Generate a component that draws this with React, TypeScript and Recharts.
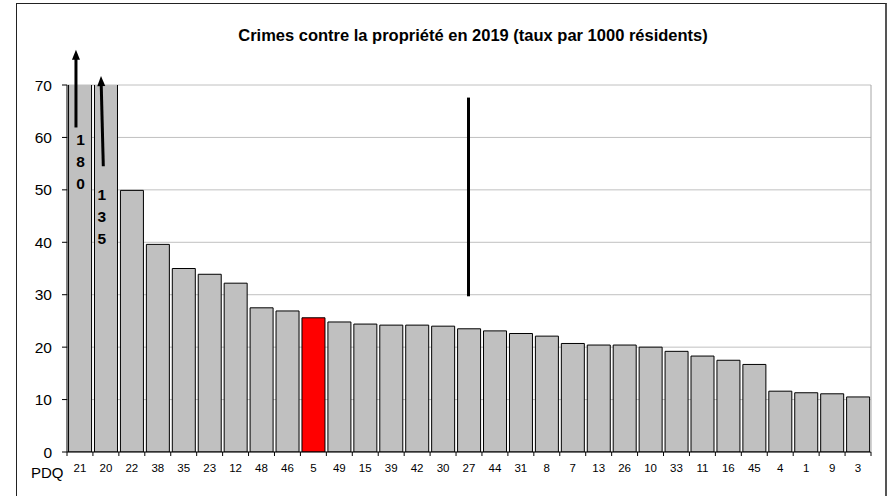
import React from 'react';
import { BarChart, Bar, XAxis, YAxis, CartesianGrid, Cell, ReferenceLine, ReferenceDot } from 'recharts';

const pdqCodes = ['21', '20', '22', '38', '35', '23', '12', '48', '46', '5', '49', '15', '39', '42', '30', '27', '44', '31', '8', '7', '13', '26', '10', '33', '11', '16', '45', '4', '1', '9', '3'];
const crimeRates = [180, 135, 49.9, 39.6, 35.0, 33.9, 32.2, 27.5, 26.9, 25.6, 24.8, 24.4, 24.2, 24.2, 24.0, 23.5, 23.1, 22.6, 22.1, 20.7, 20.4, 20.4, 20.0, 19.2, 18.3, 17.5, 16.7, 11.6, 11.3, 11.1, 10.5];
const highlightedPdq = '5';
const yTicks = [0, 10, 20, 30, 40, 50, 60, 70];
const yMax = 70;
const chartTitle = 'Crimes contre la propriété en 2019 (taux par 1000 résidents)';
const axisName = 'PDQ';
// bars whose value exceeds the axis: arrow span and label anchor in data units
const overflowPdq = ['21', '20'];
const overflowValues = [180, 135];
const arrowFrom = [61.9, 54.5];
const arrowTo = [76.7, 71.7];
const labelAnchor = [59.7, 49.2];
// vertical marker line
const markerPdq = '27';
const markerFrom = 29.7;
const markerTo = 67.6;

const data = pdqCodes.map((p, i) => ({ pdq: p, rate: crimeRates[i] }));

const FONT = "'Liberation Sans', Arial, Helvetica, sans-serif";
const X_TICK_SIZE = 4;
const X_TICK_MARGIN = 8;

// horizontal pixel nudges for annotations (style)
const arrowNudge = [
  [-4, -4],
  [-2.6, -4.9],
];
const labelNudge = [0.7, -4.2];

const XTick = (props: any) => {
  const { x, y, payload, index, visibleTicksCount, width } = props;
  const w = typeof width === 'number' ? width : 804;
  const half = w / visibleTicksCount / 2;
  const axisY = y - X_TICK_SIZE - X_TICK_MARGIN;
  return (
    <g>
      <line x1={x - half} x2={x - half} y1={axisY} y2={axisY + 4} stroke="#000" strokeWidth={1} />
      {index === visibleTicksCount - 1 && (
        <line x1={x + half} x2={x + half} y1={axisY} y2={axisY + 4} stroke="#000" strokeWidth={1} />
      )}
      <text x={x} y={y} dy="0.71em" textAnchor="middle" fontSize={11.5} fill="#000" fontFamily={FONT}>
        {payload.value}
      </text>
    </g>
  );
};

const makeArrow = (i: number) => (props: any) => {
  const { x1, y1, x2, y2 } = props;
  const bx = x1 + arrowNudge[i][0];
  const by = y1;
  const tx = x2 + arrowNudge[i][1];
  const ty = y2;
  const dx = tx - bx;
  const dy = ty - by;
  const len = Math.sqrt(dx * dx + dy * dy) || 1;
  const ux = dx / len;
  const uy = dy / len;
  const headLen = 10;
  const headHalf = 4;
  const hx = tx - ux * headLen;
  const hy = ty - uy * headLen;
  const px = -uy;
  const py = ux;
  return (
    <g>
      <line x1={bx} y1={by} x2={hx + ux * 1} y2={hy + uy * 1} stroke="#000" strokeWidth={3} />
      <polygon
        points={`${tx},${ty} ${hx + px * headHalf},${hy + py * headHalf} ${hx - px * headHalf},${hy - py * headHalf}`}
        fill="#000"
      />
    </g>
  );
};

const makeDigits = (i: number) => (props: any) => {
  const { cx, cy } = props;
  const digits = String(overflowValues[i]).split('');
  const x = cx + labelNudge[i];
  return (
    <text x={x} y={cy} textAnchor="middle" fontSize={15.5} fontWeight="bold" fill="#000" fontFamily={FONT}>
      {digits.map((d, k) => (
        <tspan key={k} x={x} dy={k === 0 ? '0.36em' : 22}>
          {d}
        </tspan>
      ))}
    </text>
  );
};

const MarkerShape = (props: any) => {
  const { x1, y1, x2, y2 } = props;
  return <line x1={x1 - 0.5} y1={y1} x2={x2 - 0.5} y2={y2} stroke="#000" strokeWidth={3} />;
};

export default function App() {
  return (
    <div
      style={{
        position: 'absolute',
        left: 0,
        top: 0,
        width: 890,
        height: 496,
        overflow: 'hidden',
        background: '#fff',
        fontFamily: FONT,
      }}
    >
      <div
        style={{
          position: 'absolute',
          left: 16,
          top: 3,
          width: 868,
          height: 600,
          borderLeft: '1px solid #222',
          borderTop: '1px solid #222',
          borderRight: '2px solid #555',
        }}
      />
      <div
        style={{
          position: 'absolute',
          left: 0,
          top: 26,
          width: 946,
          textAlign: 'center',
          fontSize: 16.5,
          lineHeight: '19px',
          fontWeight: 'bold',
          color: '#000',
          whiteSpace: 'nowrap',
        }}
      >
        {chartTitle}
      </div>
      <div
        style={{
          position: 'absolute',
          left: 31,
          top: 465,
          fontSize: 15,
          lineHeight: '15px',
          color: '#000',
        }}
      >
        {axisName}
      </div>
      <div style={{ position: 'absolute', left: 0, top: 0 }}>
        <BarChart
          width={890}
          height={496}
          data={data}
          margin={{ top: 85, right: 18, bottom: 14, left: 17 }}
          barCategoryGap="6%"
        >
          <CartesianGrid vertical={false} stroke="#c0c0c0" strokeWidth={1} />
          <XAxis
            dataKey="pdq"
            interval={0}
            height={30}
            tickLine={false}
            tickSize={X_TICK_SIZE}
            tickMargin={X_TICK_MARGIN}
            axisLine={{ stroke: '#000', strokeWidth: 1 }}
            tick={<XTick />}
          />
          <YAxis
            domain={[0, yMax]}
            ticks={yTicks}
            allowDataOverflow
            width={50}
            tickSize={5}
            tickMargin={10}
            axisLine={{ stroke: '#000', strokeWidth: 1 }}
            tickLine={{ stroke: '#000', strokeWidth: 1 }}
            tick={{ fontSize: 15.5, fill: '#000', fontFamily: FONT }}
          />
          <YAxis
            yAxisId="frame"
            orientation="right"
            domain={[0, yMax]}
            width={1}
            tick={false}
            tickLine={false}
            axisLine={{ stroke: '#a6a6a6', strokeWidth: 1 }}
          />
          <Bar dataKey="rate" isAnimationActive={false} stroke="#000" strokeWidth={1} fill="#c0c0c0">
            {data.map((d) => (
              <Cell key={d.pdq} fill={d.pdq === highlightedPdq ? '#ff0000' : '#c0c0c0'} />
            ))}
          </Bar>
          <ReferenceLine
            segment={[
              { x: markerPdq, y: markerFrom },
              { x: markerPdq, y: markerTo },
            ]}
            ifOverflow="visible"
            shape={MarkerShape}
          />
          {overflowPdq.map((p, i) => (
            <ReferenceLine
              key={'a' + p}
              segment={[
                { x: p, y: arrowFrom[i] },
                { x: p, y: arrowTo[i] },
              ]}
              ifOverflow="visible"
              shape={makeArrow(i)}
            />
          ))}
          {overflowPdq.map((p, i) => (
            <ReferenceDot key={'d' + p} x={p} y={labelAnchor[i]} r={0} ifOverflow="visible" shape={makeDigits(i)} />
          ))}
        </BarChart>
      </div>
    </div>
  );
}
